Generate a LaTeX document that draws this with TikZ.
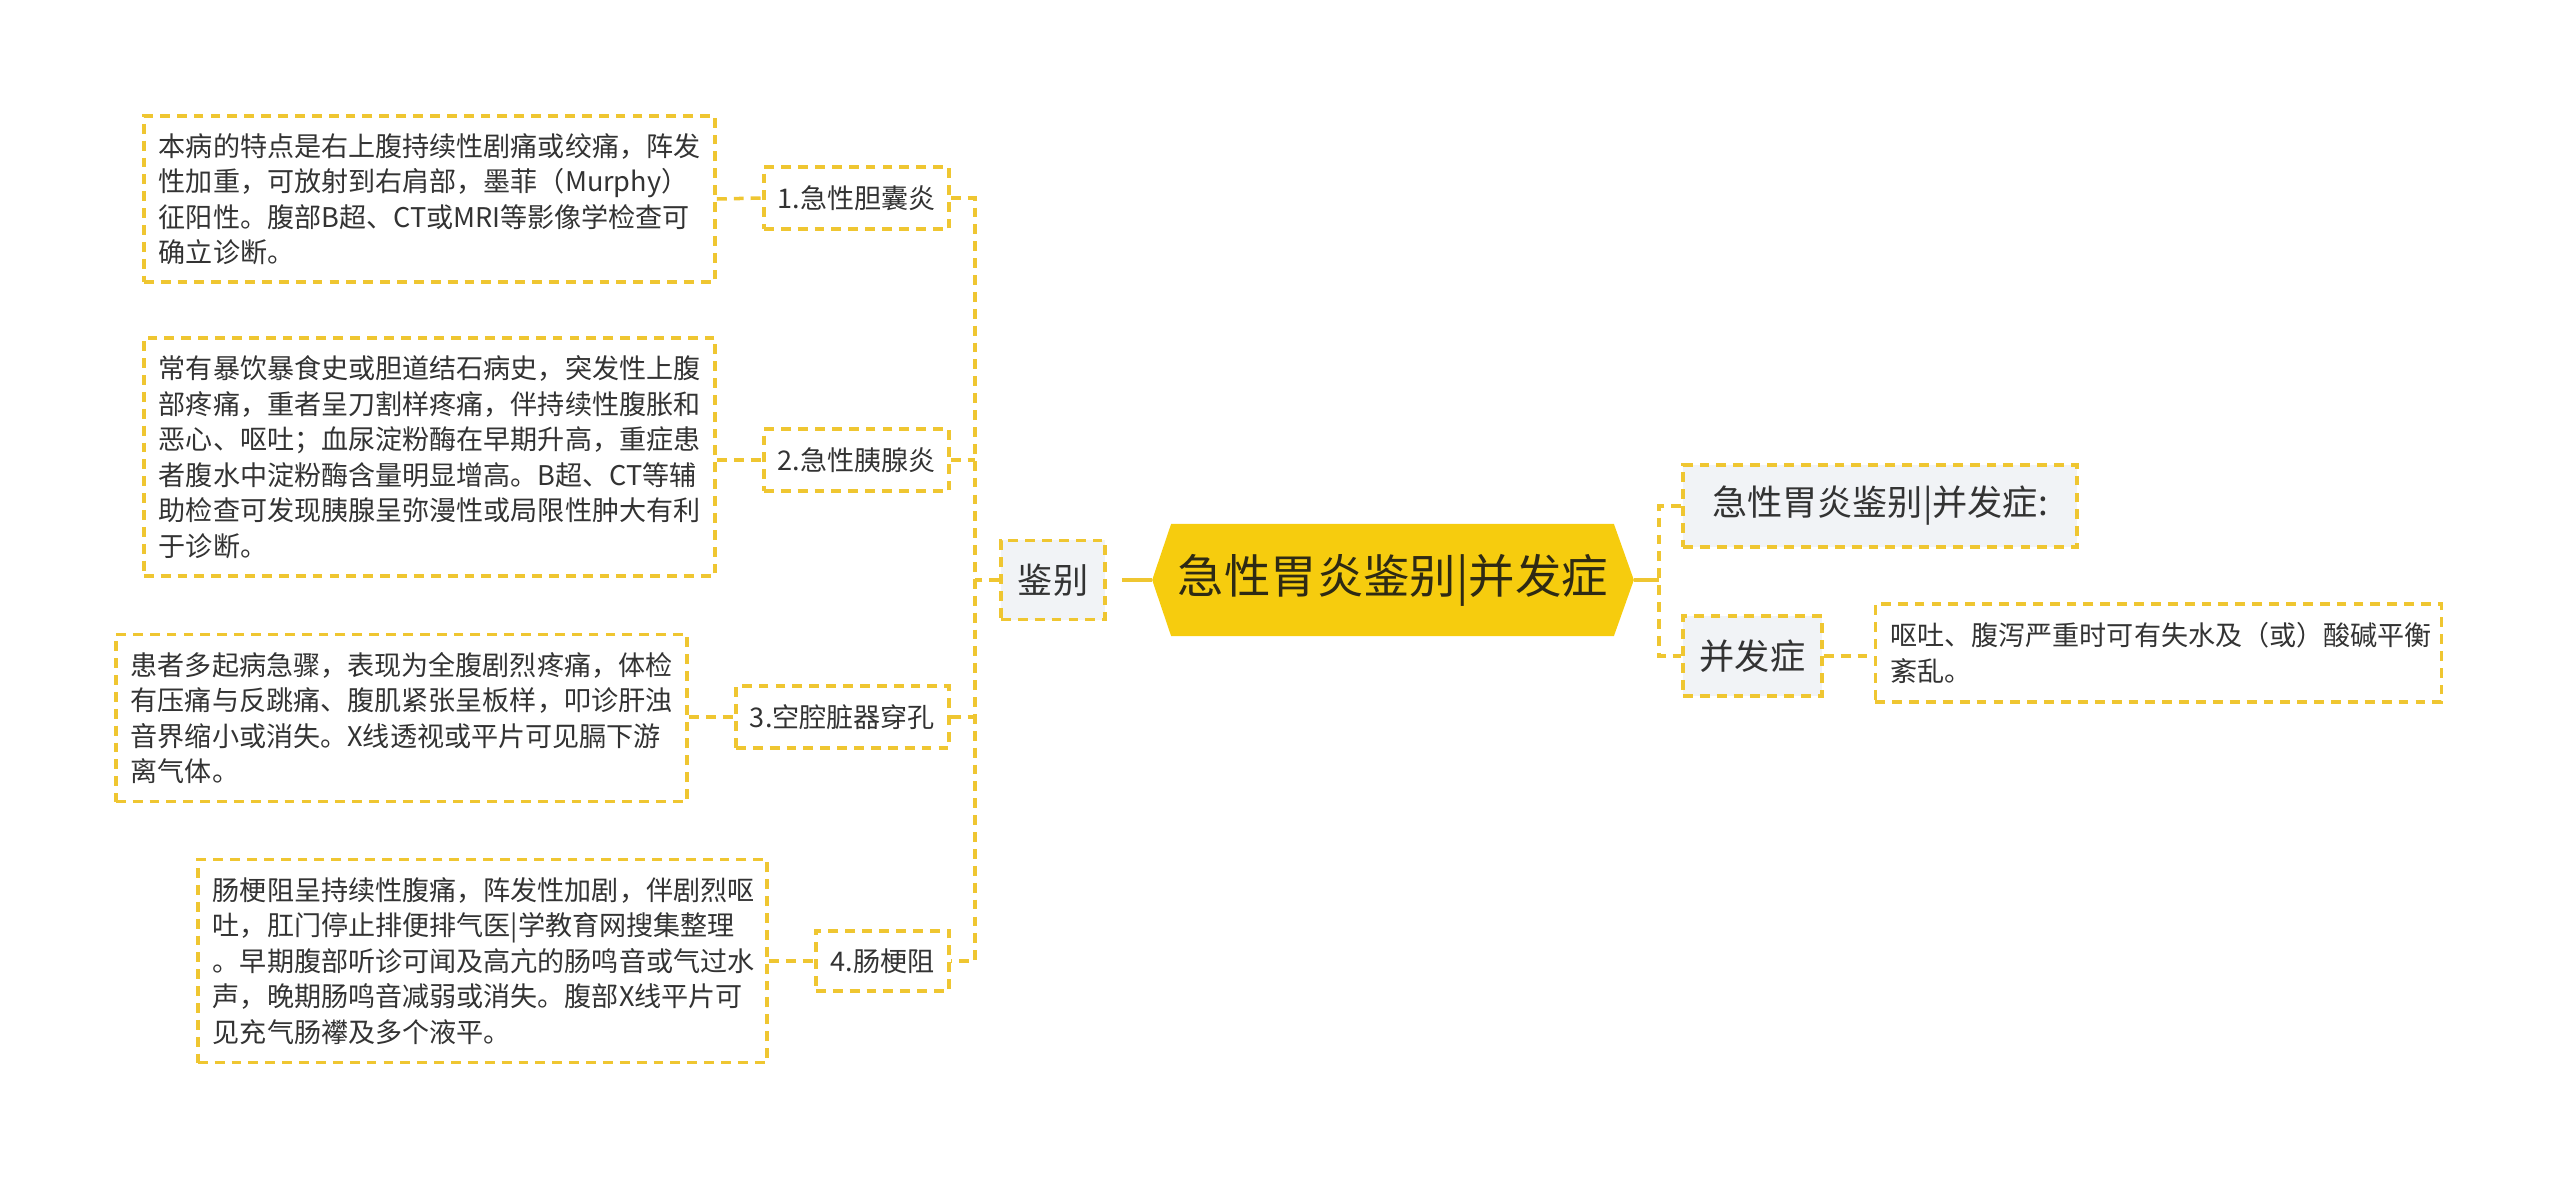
\documentclass[tikz,border=0pt]{standalone}
\usepackage{fontspec}
\setmainfont{Noto Sans CJK SC}
\usetikzlibrary{backgrounds}
\definecolor{lineY}{HTML}{EFC631}
\definecolor{rootY}{HTML}{F6CC0E}
\definecolor{txt}{HTML}{333333}
\definecolor{roottxt}{HTML}{2E2A14}
\definecolor{grayfill}{HTML}{F1F3F6}
\begin{document}
\begin{tikzpicture}[x=0.01cm,y=-0.01cm,
  dl/.style={draw=lineY, line width=1pt, dash pattern=on 2.8pt off 2pt},
  sl/.style={draw=lineY, line width=1.1pt},
  detail/.style={dl, fill=white, align=left, text=txt, inner ysep=0pt, inner xsep=0.15cm,
     font=\fontsize{7.7}{10.1}\selectfont},
  child/.style={dl, fill=white, text=txt, inner sep=0pt, font=\fontsize{7.7}{10.1}\selectfont},
  gchild/.style={dl, fill=grayfill, text=txt, inner sep=0pt, font=\fontsize{10}{12}\selectfont},
  rootn/.style={inner sep=0pt, minimum width=4.8cm, minimum height=1.11cm, text=roottxt,
     font=\fontsize{13.2}{15}\selectfont}
]
\useasboundingbox (0,0) rectangle (2560,1179);

% root
\node[rootn] (root) at (1393,580) {急性胃炎鉴别|并发症};
\begin{scope}[on background layer]
\fill[rootY] (root.west) -- ([xshift=0.19cm]root.north west) -- ([xshift=-0.2cm]root.north east)
  -- (root.east) -- ([xshift=-0.2cm]root.south east) -- ([xshift=0.19cm]root.south west) -- cycle;
\end{scope}

% left branch
\node[gchild, minimum width=1.04cm, minimum height=0.79cm] (jb) at (1053,580) {鉴别};

\node[child, minimum width=1.85cm, minimum height=0.62cm] (c1) at (856.5,198) {1.急性胆囊炎};
\node[child, minimum width=1.85cm, minimum height=0.62cm] (c2) at (856.5,460) {2.急性胰腺炎};
\node[child, minimum width=2.13cm, minimum height=0.62cm] (c3) at (842.5,717) {3.空腔脏器穿孔};
\node[child, minimum width=1.33cm, minimum height=0.60cm] (c4) at (882.5,961) {4.肠梗阻};

\node[detail, text width=5.41cm, minimum height=1.66cm] (d1) at (429.5,199) {本病的特点是右上腹持续性剧痛或绞痛，阵发\\性加重，可放射到右肩部，墨菲（Murphy）\\征阳性。腹部B超、CT或MRI等影像学检查可\\确立诊断。};
\node[detail, text width=5.41cm, minimum height=2.38cm] (d2) at (429.5,457) {常有暴饮暴食史或胆道结石病史，突发性上腹\\部疼痛，重者呈刀割样疼痛，伴持续性腹胀和\\恶心、呕吐；血尿淀粉酶在早期升高，重症患\\者腹水中淀粉酶含量明显增高。B超、CT等辅\\助检查可发现胰腺呈弥漫性或局限性肿大有利\\于诊断。};
\node[detail, text width=5.41cm, minimum height=1.67cm] (d3) at (401.5,718) {患者多起病急骤，表现为全腹剧烈疼痛，体检\\有压痛与反跳痛、腹肌紧张呈板样，叩诊肝浊\\音界缩小或消失。X线透视或平片可见膈下游\\离气体。};
\node[detail, text width=5.39cm, minimum height=2.03cm] (d4) at (482.5,961) {肠梗阻呈持续性腹痛，阵发性加剧，伴剧烈呕\\吐，肛门停止排便排气医|学教育网搜集整理\\。早期腹部听诊可闻及高亢的肠鸣音或气过水\\声，晚期肠鸣音减弱或消失。腹部X线平片可\\见充气肠襻及多个液平。};

\coordinate (lt) at (975,198);
\coordinate (lb) at (975,961);
\draw[dl] (c1.east) -- (lt) -- (lb) -- (c4.east);
\draw[dl] (c2.east) -- (c2.east -| lt);
\draw[dl] (c3.east) -- (c3.east -| lt);
\draw[dl] (jb.west) -- (jb.west -| lt);
\draw[dl] (d1.east) -- (c1.west);
\draw[dl] (d2.east |- c2.west) -- (c2.west);
\draw[dl] (d3.east |- c3.west) -- (c3.west);
\draw[dl] (d4.east) -- (c4.west);
\draw[sl, shorten <=0.15cm] (jb.east) -- (root.west);

% right branch
\node[gchild, minimum width=3.94cm, minimum height=0.82cm] (r1) at (1880,506) {急性胃炎鉴别|并发症:};
\node[gchild, minimum width=1.39cm, minimum height=0.80cm] (r2) at (1752.5,656) {并发症};
\node[detail, text width=5.36cm, minimum height=0.98cm] (rd) at (2158.5,653) {呕吐、腹泻严重时可有失水及（或）酸碱平衡\\紊乱。};

\coordinate (rt) at (1659,506);
\coordinate (rb) at (1659,656);
\draw[dl] (r1.west) -- (rt) -- (rb) -- (r2.west);
\draw[sl] (root.east) -- (root.east -| rt);
\draw[dl] (r2.east) -- (r2.east -| rd.west);
\end{tikzpicture}
\end{document}
